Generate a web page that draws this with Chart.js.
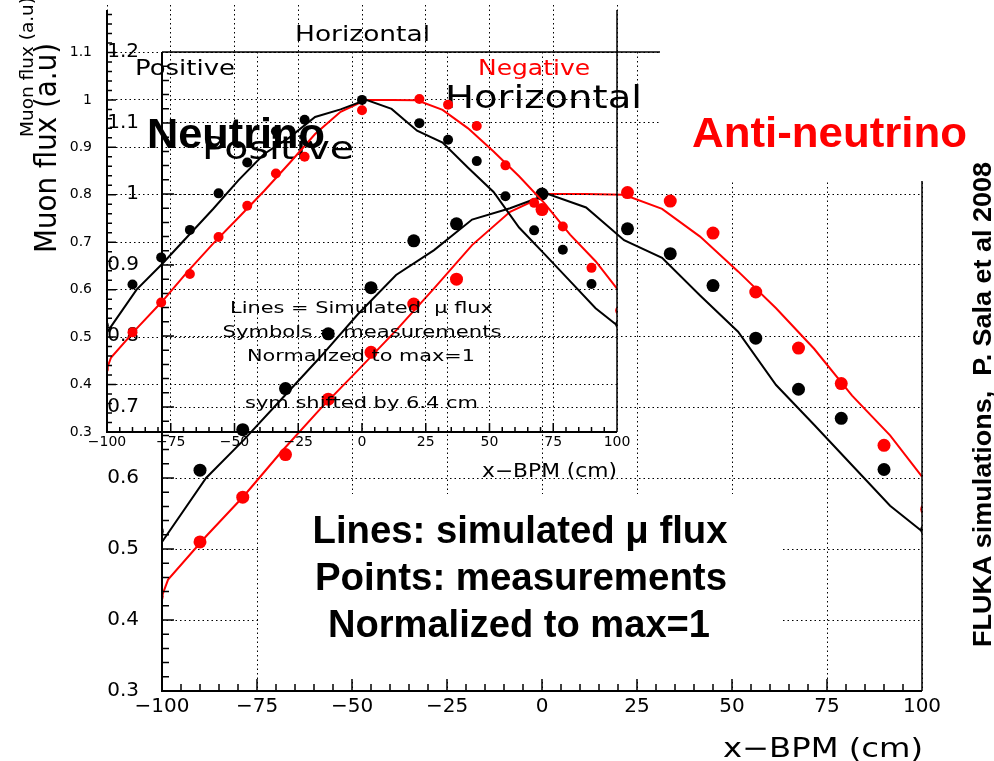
<!DOCTYPE html>
<html><head><meta charset="utf-8">
<script src="https://cdn.jsdelivr.net/npm/chart.js@4.4.1/dist/chart.umd.min.js"></script>
<style>
html,body{margin:0;padding:0;background:#fff;}
#wrap{position:relative;width:994px;height:761px;overflow:hidden;background:#fff;}
canvas{position:absolute;left:0;top:0;}
</style></head><body>
<div id="wrap"><canvas id="big" width="994" height="761"></canvas><canvas id="inset" width="994" height="761"></canvas></div>
<script>
// ---- data ----
const measX = [-101.25,-90,-78.75,-67.5,-56.25,-45,-33.75,-22.5,0,22.5,33.75,45,56.25,67.5,78.75,90,101.25];
const measPositive = [0.525,0.611,0.668,0.726,0.803,0.868,0.934,0.958,1.0,0.951,0.916,0.871,0.797,0.725,0.684,0.612,0.527];
const measNegative = [0.433,0.51,0.573,0.633,0.711,0.777,0.845,0.88,0.978,1.002,0.99,0.945,0.862,0.783,0.733,0.646,0.556];
const simPosX = [-100,-88.4,-78.4,-68.4,-58.4,-48.4,-38.4,-28.4,-18.4,-8.4,1.6,11.6,21.6,31.6,41.6,51.6,61.6,71.6,81.6,91.6,100];
const simPositive = [0.51,0.6,0.654,0.712,0.77,0.831,0.886,0.921,0.964,0.98,1.0,0.981,0.935,0.91,0.857,0.806,0.731,0.675,0.618,0.561,0.525];
const simNegX = [-100,-98.4,-88.4,-78.4,-68.4,-58.4,-48.4,-38.4,-28.4,-18.4,-8.4,1.6,11.6,21.6,31.6,41.6,51.6,61.6,71.6,81.6,91.6,100];
const simNegative = [0.434,0.457,0.518,0.575,0.638,0.697,0.752,0.808,0.867,0.928,0.975,1.0,1.0,0.999,0.979,0.94,0.891,0.839,0.782,0.716,0.66,0.602];
const xTickValues = [-100,-75,-50,-25,0,25,50,75,100];
const bigYTickValues = [0.3,0.4,0.5,0.6,0.7,0.8,0.9,1.0,1.1,1.2];
const insetYTickValues = [0.3,0.4,0.5,0.6,0.7,0.8,0.9,1.0,1.1];

const FONT = 'DejaVu Sans';
const BOLD = 'Liberation Sans';
const RED = '#ff0000';

const fmt = v => { const s = String(+(+v).toFixed(2)); return v < 0 ? '\u2212' + s.replace('-', '') : s; };
const pts = (xs, ys) => xs.map((x, i) => ({x, y: ys[i]}));

function drawText(ctx, s, o) {
  ctx.save();
  ctx.font = o.font; ctx.fillStyle = o.color || '#000';
  ctx.textBaseline = o.baseline || 'alphabetic';
  const w = ctx.measureText(s).width;
  const sx = o.width ? o.width / w : 1;
  ctx.translate(o.x, o.y);
  if (o.rot) ctx.rotate(o.rot);
  ctx.scale(sx, 1);
  ctx.textAlign = o.align || 'center';
  ctx.fillText(s, 0, 0);
  ctx.restore();
}

function makeDatasets(r) {
  return [
    {label:'meas +', data: pts(measX, measPositive), showLine:false, pointRadius:r, pointHoverRadius:r, pointBackgroundColor:'#000', pointBorderWidth:0, borderColor:'#000', clip:0},
    {label:'meas -', data: pts(measX, measNegative), showLine:false, pointRadius:r, pointHoverRadius:r, pointBackgroundColor:RED, pointBorderWidth:0, borderColor:RED, clip:0},
    {label:'sim +', data: pts(simPosX, simPositive), showLine:true, pointRadius:0, borderColor:'#000', borderWidth:2, tension:0, clip:0},
    {label:'sim -', data: pts(simNegX, simNegative), showLine:true, pointRadius:0, borderColor:RED, borderWidth:2, tension:0, clip:0}
  ];
}

function makeScales(c) {
  return {
    x: {type:'linear', position:'bottom', min:-100, max:100,
      afterBuildTicks: s => { s.ticks = xTickValues.map(v => ({value:v})); },
      afterFit: s => { s.height = c.xh; s.paddingLeft = 0; s.paddingRight = 0; },
      ticks: {autoSkip:false, maxRotation:0, minRotation:0, padding:c.xpad, color:'#000', font:{family:FONT, size:c.xfs}, callback: v => fmt(v)},
      grid: {color:'#000', lineWidth:1, drawTicks:false},
      border: {display:false, dash:[1.5,3]}},
    y: {type:'linear', position:'left', min:0.3, max:1.2,
      afterBuildTicks: s => { s.ticks = c.yt.map(v => ({value:v})); },
      afterFit: s => { s.width = c.yw; s.paddingTop = 0; s.paddingBottom = 0; },
      ticks: {autoSkip:false, padding:c.ypad, color:'#000', font:{family:FONT, size:c.yfs}, callback: v => fmt(v)},
      grid: {color:'#000', lineWidth:1, drawTicks:false},
      border: {display:false, dash:[1.5,3]}}
  };
}

function axesPlugin(c) {
  return {id:'axes_' + c.name, afterDatasetsDraw(chart) {
    const {ctx, chartArea:a, scales:{x, y}} = chart;
    ctx.save(); ctx.strokeStyle = '#000'; ctx.lineWidth = 1.5;
    ctx.beginPath();
    for (let i = 1; i < 40; i++) {
      const px = x.getPixelForValue(-100 + i * 5);
      const L = (i % 5 === 0) ? c.tMaj : c.tMin;
      ctx.moveTo(px, a.bottom); ctx.lineTo(px, a.bottom - L);
    }
    for (let i = 1; i < 45; i++) {
      const py = y.getPixelForValue(0.3 + i * 0.02);
      const L = (i % 5 === 0) ? c.tMaj : c.tMin;
      ctx.moveTo(a.left, py); ctx.lineTo(a.left + L, py);
    }
    ctx.stroke();
    ctx.lineWidth = 2;
    ctx.beginPath(); ctx.moveTo(a.left, a.top + c.axTop); ctx.lineTo(a.left, a.bottom); ctx.lineTo(a.right, a.bottom); ctx.stroke();
    ctx.lineWidth = 1.5;
    ctx.beginPath();
    if (c.top) { ctx.moveTo(a.left, a.top); ctx.lineTo(a.right, a.top); }
    ctx.moveTo(a.right, a.top + c.axTop); ctx.lineTo(a.right, a.bottom);
    ctx.stroke();
    ctx.restore();
  }};
}

const bigCfg = {name:'big', xh:70, xpad:4, xfs:20, yw:162, ypad:23, yfs:20, yt:bigYTickValues, tMaj:12, tMin:7, top:true, axTop:0};
const insetCfg = {name:'inset', xh:329, xpad:2, xfs:14, yw:107, ypad:15, yfs:14, yt:insetYTickValues, tMaj:9, tMin:5, top:false, axTop:5};

const bigOverlay = {id:'bigOverlay', afterDraw(chart) {
  const ctx = chart.ctx;
  ctx.save(); ctx.fillStyle = '#fff';
  ctx.fillRect(259, 494, 522, 185);
  ctx.fillRect(660, 0, 334, 181);
  ctx.restore();
  drawText(ctx, 'Horizontal', {x:543.5, y:108, font:'32px ' + FONT, width:197});
  drawText(ctx, 'Positive', {x:278, y:159, font:'32px ' + FONT, width:152});
  const bf = 'bold 39px "' + BOLD + '"';
  drawText(ctx, 'Lines: simulated \u03bc flux', {x:520, y:543, font:bf, width:415});
  drawText(ctx, 'Points: measurements', {x:521, y:590, font:bf, width:412});
  drawText(ctx, 'Normalized to max=1', {x:519, y:637, font:bf, width:382});
  drawText(ctx, 'Anti-neutrino', {x:829.5, y:147, font:'bold 42px "' + BOLD + '"', color:RED, width:275});
  drawText(ctx, 'FLUKA simulations,  P. Sala et al 2008', {x:991, y:404.5, font:'bold 25px "' + BOLD + '"', width:485, rot:-Math.PI/2});
  drawText(ctx, 'Muon flux (a.u)', {x:56, y:148, font:'31px ' + FONT, width:210, rot:-Math.PI/2});
  drawText(ctx, 'x\u2212BPM (cm)', {x:923, y:757, font:'27px ' + FONT, width:200, align:'right'});
}};

const insetOverlay = {id:'insetOverlay', afterDraw(chart) {
  const ctx = chart.ctx;
  drawText(ctx, 'Horizontal', {x:362.5, y:41, font:'21px ' + FONT, width:135});
  drawText(ctx, 'Positive', {x:185, y:75, font:'21px ' + FONT, width:100});
  drawText(ctx, 'Negative', {x:534, y:75, font:'21px ' + FONT, color:RED, width:112});
  const f = '16px ' + FONT;
  drawText(ctx, 'Lines = Simulated  \u03bc flux', {x:361.5, y:313, font:f, width:263});
  drawText(ctx, 'Symbols = measurements', {x:362, y:337, font:f, width:279});
  drawText(ctx, 'Normalized to max=1', {x:361, y:361, font:f, width:228});
  drawText(ctx, 'sym shifted by 6.4 cm', {x:361.5, y:408, font:f, width:233});
  drawText(ctx, 'Muon flux (a.u)', {x:33, y:137, font:'17px ' + FONT, width:140, align:'left', rot:-Math.PI/2});
  drawText(ctx, 'x\u2212BPM (cm)', {x:617, y:477, font:'19px ' + FONT, width:135, align:'right'});
  drawText(ctx, 'Neutrino', {x:236, y:148, font:'bold 42px "' + BOLD + '"', width:178});
}};

function build(id, cfg, r, padding, overlay) {
  return new Chart(document.getElementById(id), {
    type:'scatter',
    data:{datasets: makeDatasets(r)},
    options:{
      responsive:false, animation:false, devicePixelRatio:1,
      layout:{padding},
      plugins:{legend:{display:false}, tooltip:{enabled:false}, title:{display:false}},
      scales: makeScales(cfg)
    },
    plugins:[axesPlugin(cfg), overlay]
  });
}

build('big', bigCfg, 6.5, {left:0, top:52, right:72, bottom:0}, bigOverlay);
build('inset', insetCfg, 5, {left:0, top:4.5, right:377, bottom:0}, insetOverlay);
</script>
</body></html>
